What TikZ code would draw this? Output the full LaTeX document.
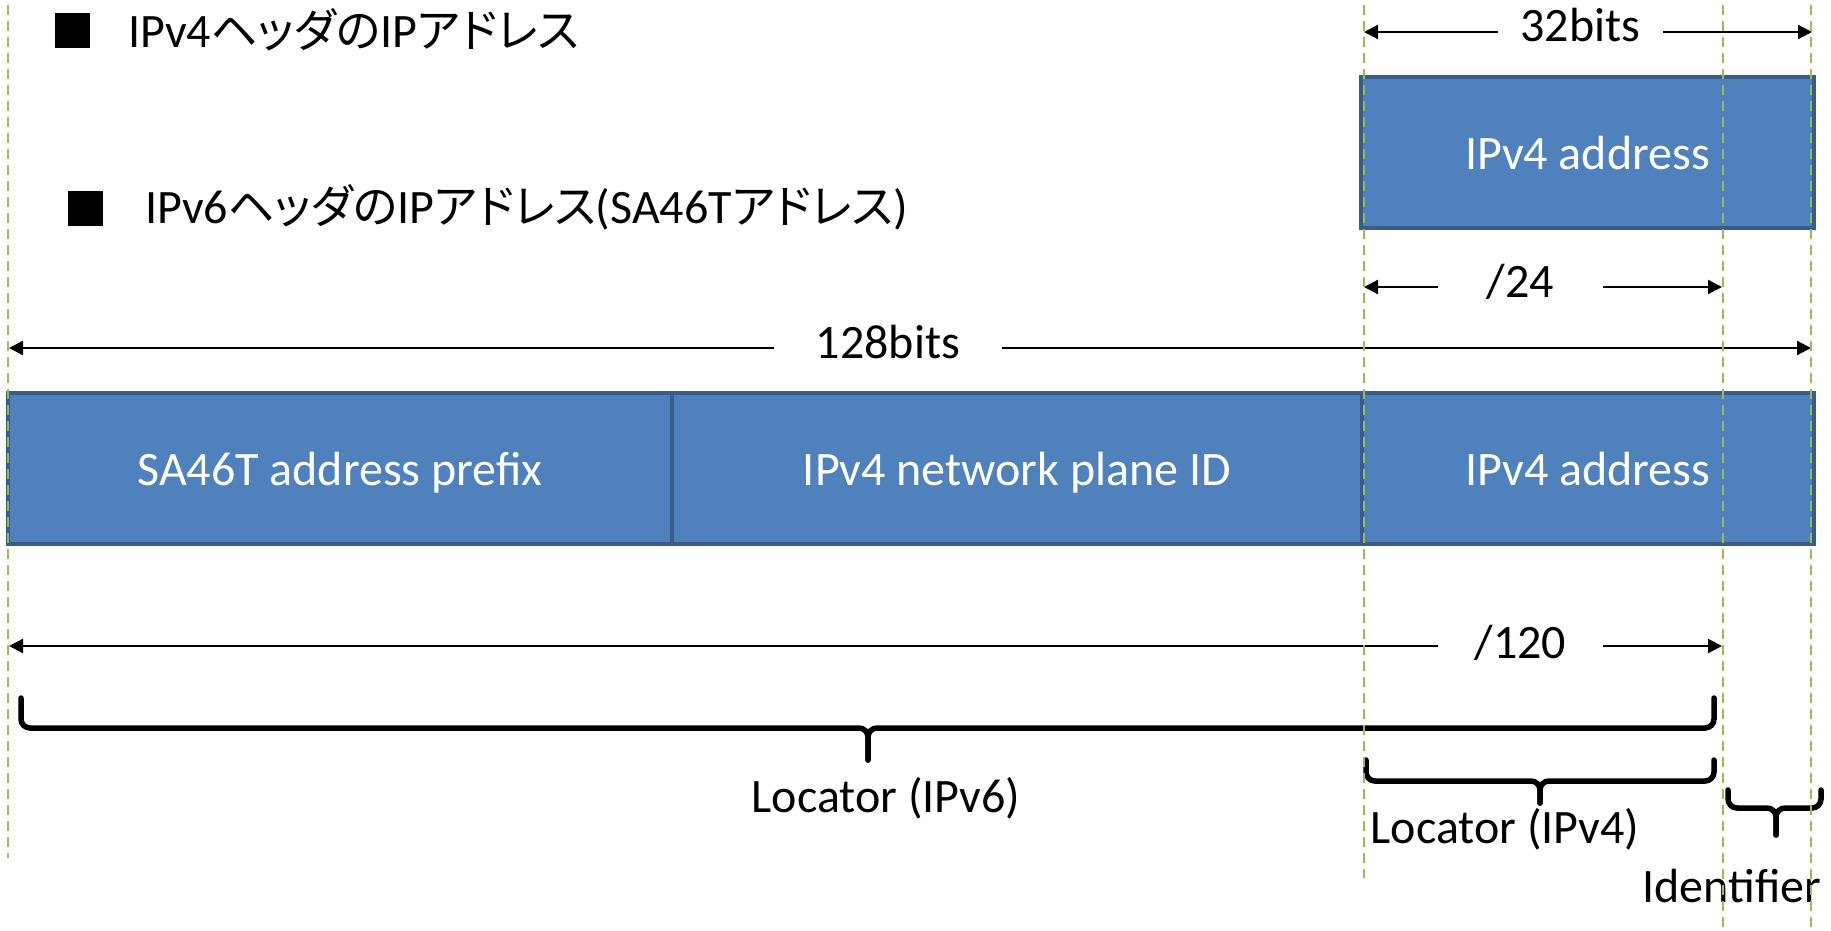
\documentclass[tikz,border=0pt]{standalone}
\usepackage{fontspec}
\setmainfont{Carlito}
\newfontfamily\jp[RawFeature={+palt}, Scale=0.96]{Noto Sans CJK JP}
\usetikzlibrary{arrows.meta}
\definecolor{fieldblue}{HTML}{4F81BD}
\definecolor{fieldedge}{HTML}{385D8A}
\definecolor{guidegreen}{HTML}{9BBB59}

\tikzset{
  field/.style={draw=fieldedge, line width=3.5pt, fill=fieldblue, text=white,
    font=\fontsize{48}{58}\selectfont, text height=33pt, text depth=0pt,
    inner sep=0pt, minimum height=151pt},
  dimline/.style={line width=2.2pt, -{Triangle[length=14pt,width=14pt]}},
  plaintext/.style={font=\fontsize{48}{58}\selectfont, inner sep=0pt, anchor=base},
  bracket/.style={line width=5.5pt, rounded corners=9pt, line cap=round},
  guide/.style={guidegreen, line width=2.5pt, dash pattern=on 10pt off 6pt},
  bullet/.style={fill=black, minimum width=35pt, minimum height=35pt, inner sep=0pt}
}

\begin{document}
\begin{tikzpicture}[x=1pt, y=-1pt]
\useasboundingbox (0,0) rectangle (1831,931);

% headings
\node[bullet] (b1) at (72.5,30.5) {};
\node[plaintext, anchor=base west] (t1) at (128,48) {IPv4{\jp ヘッダの}IP{\jp アドレス}};
\node[bullet] (b2) at (85.5,208.5) {};
\node[plaintext, anchor=base west] (t2) at (145,223) {IPv6{\jp ヘッダの}IP{\jp アドレス}(SA46T{\jp アドレス})};

% IPv4 header address
\node[field, minimum width=453pt] (v4hdr) at (1587.5,152.5) {IPv4 address};

% SA46T address fields
\node[field, minimum width=664pt] (prefix) at (340,468.5) {SA46T address prefix};
\node[field, minimum width=690pt] (plane) at (1017,468.5) {IPv4 network plane ID};
\node[field, minimum width=452pt] (v4part) at (1588,468.5) {IPv4 address};

% dimension arrows
\coordinate (a32L) at (1364,32);  \coordinate (a32R) at (1812,32);
\node[plaintext, minimum width=165pt] (l32) at (1580.5,42) {32bits};
\draw[dimline] (l32.west |- a32L) -- (a32L);
\draw[dimline] (l32.east |- a32R) -- (a32R);

\coordinate (a24L) at (1364,287);  \coordinate (a24R) at (1722,287);
\node[plaintext, minimum width=165pt] (l24) at (1520.5,297) {/24};
\draw[dimline] (l24.west |- a24L) -- (a24L);
\draw[dimline] (l24.east |- a24R) -- (a24R);

\coordinate (a128L) at (9,348);  \coordinate (a128R) at (1811,348);
\node[plaintext, minimum width=228pt] (l128) at (888,358) {128bits};
\draw[dimline] (l128.west |- a128L) -- (a128L);
\draw[dimline] (l128.east |- a128R) -- (a128R);

\coordinate (a120L) at (9,646);  \coordinate (a120R) at (1722,646);
\node[plaintext, minimum width=165pt] (l120) at (1520.5,658) {/120};
\draw[dimline] (l120.west |- a120L) -- (a120L);
\draw[dimline] (l120.east |- a120R) -- (a120R);

% braces
\coordinate (v6a) at (21,698);  \coordinate (v6b) at (1714,698);
\coordinate (v6m) at (868,728); \coordinate (v6t) at (868,760);
\draw[bracket] (v6a) -- (v6a |- v6m) -- (v6m) -- (v6t);
\draw[bracket] (v6b) -- (v6b |- v6m) -- (v6m) -- (v6t);
\node[plaintext] (loc6) at (886,812) {Locator (IPv6)};

\coordinate (v4a) at (1366,760);  \coordinate (v4b) at (1714,760);
\coordinate (v4m) at (1540,781);  \coordinate (v4t) at (1540,803);
\draw[bracket] (v4a) -- (v4a |- v4m) -- (v4m) -- (v4t);
\draw[bracket] (v4b) -- (v4b |- v4m) -- (v4m) -- (v4t);
\node[plaintext] (loc4) at (1505,843) {Locator (IPv4)};

\coordinate (ida) at (1728,790);  \coordinate (idb) at (1821,790);
\coordinate (idm) at (1776,808);  \coordinate (idt) at (1776,835);
\draw[bracket] (ida) -- (ida |- idm) -- (idm) -- (idt);
\draw[bracket] (idb) -- (idb |- idm) -- (idm) -- (idt);
\node[plaintext] (ident) at (1732,902) {Identifier};

% alignment guides
\coordinate (g0a) at (8,5);     \coordinate (g0b) at (8,858);
\coordinate (g1a) at (1364,5);  \coordinate (g1b) at (1364,878);
\coordinate (g2a) at (1723,5);  \coordinate (g2b) at (1723,931);
\coordinate (g3a) at (1811,5);  \coordinate (g3b) at (1811,931);
\draw[guide] (g0a) -- (g0b);
\draw[guide] (g1a) -- (g1b);
\draw[guide] (g2a) -- (g2b);
\draw[guide] (g3a) -- (g3b);
\end{tikzpicture}
\end{document}
